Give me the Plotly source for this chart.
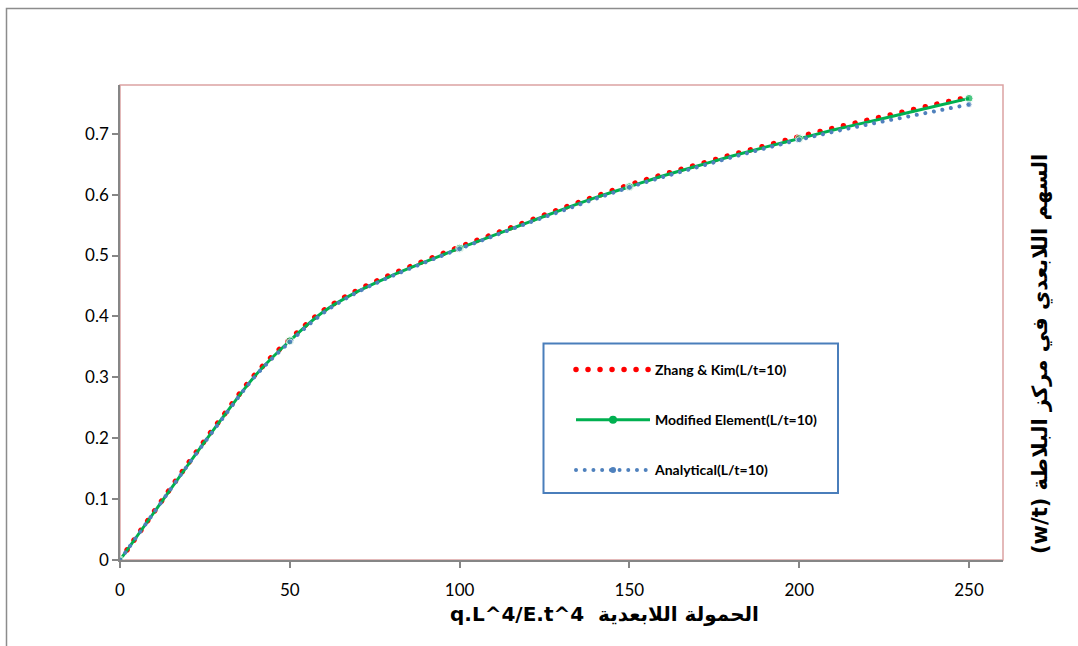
import plotly.graph_objects as go

# ---- data ----
load = [0, 10, 20, 30, 40, 50, 60, 70, 80, 90, 100, 110, 120, 130, 140, 150,
        160, 170, 180, 190, 200, 210, 220, 230, 240, 250]
zhang_kim = [0, 0.079, 0.158, 0.234, 0.306, 0.362, 0.410, 0.443, 0.469, 0.492, 0.514,
             0.535, 0.556, 0.577, 0.597, 0.616, 0.633, 0.649, 0.665, 0.680, 0.695,
             0.709, 0.722, 0.735, 0.748, 0.760]
modified = [0, 0.078, 0.156, 0.232, 0.304, 0.360, 0.408, 0.441, 0.467, 0.490, 0.512,
            0.533, 0.554, 0.575, 0.595, 0.613, 0.631, 0.647, 0.663, 0.678, 0.692,
            0.706, 0.719, 0.732, 0.745, 0.758]
analytical = [0, 0.078, 0.156, 0.231, 0.303, 0.358, 0.406, 0.440, 0.466, 0.489, 0.511,
              0.532, 0.553, 0.573, 0.593, 0.612, 0.629, 0.645, 0.661, 0.676, 0.690,
              0.703, 0.715, 0.726, 0.737, 0.748]
marker_every = 50

names = ["Zhang & Kim(L/t=10)", "Modified Element(L/t=10)", "Analytical(L/t=10)"]
x_title = "q.L^4/E.t^4  الحمولة اللابعدية"
y_title = "(w/t) السهم اللابعدي في مركز البلاطة"
x_ticks = [0, 50, 100, 150, 200, 250]
y_ticks = [0, 0.1, 0.2, 0.3, 0.4, 0.5, 0.6, 0.7]

RED, GREEN, BLUE = "#ff0000", "#00b050", "#4f81bd"
W, H = 1078, 646
L, R, T, B = 120, 75, 85, 86
pw, ph = W - L - R, H - T - B

def px_x(p):
    return (p - L) / pw

def px_y(p):
    return (H - B - p) / ph

msize_g = [8 if v % marker_every == 0 else 0 for v in load]
msize_b = [6 if v % marker_every == 0 else 0 for v in load]

red_line = dict(color=RED, width=5.5, dash="5px,7px", shape="spline")
green_line = dict(color=GREEN, width=3, shape="spline")
blue_line = dict(color=BLUE, width=4, dash="4px,4.7px", shape="spline")

fig = go.Figure()
fig.add_trace(go.Scatter(x=load, y=zhang_kim, mode="lines", showlegend=False,
                         line=red_line))
fig.add_trace(go.Scatter(x=load, y=modified, mode="lines+markers", showlegend=False,
                         line=green_line, marker=dict(color=GREEN, size=msize_g)))
fig.add_trace(go.Scatter(x=load, y=analytical, mode="lines+markers", showlegend=False,
                         line=blue_line, marker=dict(color=BLUE, size=msize_b)))
# legend entries
fig.add_trace(go.Scatter(x=[None], y=[None], name=names[0], mode="lines",
                         legendgroup="a", line=red_line))
fig.add_trace(go.Scatter(x=[None], y=[None], name=names[1], mode="lines+markers",
                         legendgroup="b", line=green_line,
                         marker=dict(color=GREEN, size=8)))
fig.add_trace(go.Scatter(x=[None], y=[None], name=names[2], mode="lines+markers",
                         legendgroup="c", line=blue_line,
                         marker=dict(color=BLUE, size=6)))

font_main = "Lato, 'DejaVu Sans', sans-serif"
font_title = "'DejaVu Sans', sans-serif"

fig.update_layout(
    width=W, height=H,
    margin=dict(l=L, r=R, t=T, b=B),
    paper_bgcolor="white", plot_bgcolor="white",
    font=dict(family=font_main, size=17, color="black"),
    showlegend=True,
    legend=dict(
        x=px_x(571), y=px_y(354), xanchor="left", yanchor="top",
        bgcolor="rgba(0,0,0,0)", borderwidth=0,
        traceorder="grouped", tracegroupgap=29, itemwidth=74,
        font=dict(family=font_main, size=14, color="black", weight="bold"),
    ),
    xaxis=dict(
        range=[0, 260], tickvals=x_ticks, ticks="outside", ticklen=6,
        tickcolor="#868686", tickwidth=1.5, showline=True, linecolor="#868686",
        linewidth=1.5, showgrid=False, zeroline=False, tickfont=dict(size=17),
        ticklabelstandoff=8,
    ),
    yaxis=dict(
        range=[0, 0.78], tickvals=y_ticks, ticks="outside", ticklen=6,
        tickcolor="#868686", tickwidth=1.5, showline=True, linecolor="#868686",
        linewidth=1.5, showgrid=False, zeroline=False, tickfont=dict(size=17),
    ),
    shapes=[
        dict(type="rect", xref="paper", yref="paper",
             x0=px_x(6.5), x1=px_x(1095), y0=px_y(8.5), y1=px_y(670),
             line=dict(color="#8c8c8c", width=1.5), layer="below"),
        dict(type="rect", xref="paper", yref="paper", x0=0, x1=1, y0=0, y1=1,
             line=dict(color="#dba3a3", width=1.5), layer="below"),
        dict(type="rect", xref="paper", yref="paper",
             x0=px_x(543.5), x1=px_x(838), y0=px_y(343.5), y1=px_y(493),
             line=dict(color="#4a7ebb", width=2), fillcolor="white", layer="above"),
    ],
    annotations=[
        dict(text=x_title, xref="paper", yref="paper", x=px_x(604), y=px_y(614),
             xanchor="center", yanchor="middle", showarrow=False,
             font=dict(family=font_title, size=20, weight="bold")),
        dict(text=y_title, xref="paper", yref="paper", x=px_x(1040), y=px_y(354),
             xanchor="center", yanchor="middle", showarrow=False, textangle=-90,
             font=dict(family=font_title, size=21, weight="bold")),
    ],
)

post = """
document.body.style.margin = '0';
document.querySelectorAll('path.js-line').forEach(function (p) {
  var da = p.style.strokeDasharray;
  if (da && da !== 'none') {
    var parts = da.split(',').map(function (s) { return parseFloat(s); });
    if (parts.length === 2 && !isNaN(parts[0]) && !isNaN(parts[1])) {
      p.style.strokeDasharray = '0.01px,' + (parts[0] + parts[1]) + 'px';
      p.style.strokeLinecap = 'round';
    }
  }
});
"""

fig.write_html("out.html", post_script=post, config={"displayModeBar": False})
